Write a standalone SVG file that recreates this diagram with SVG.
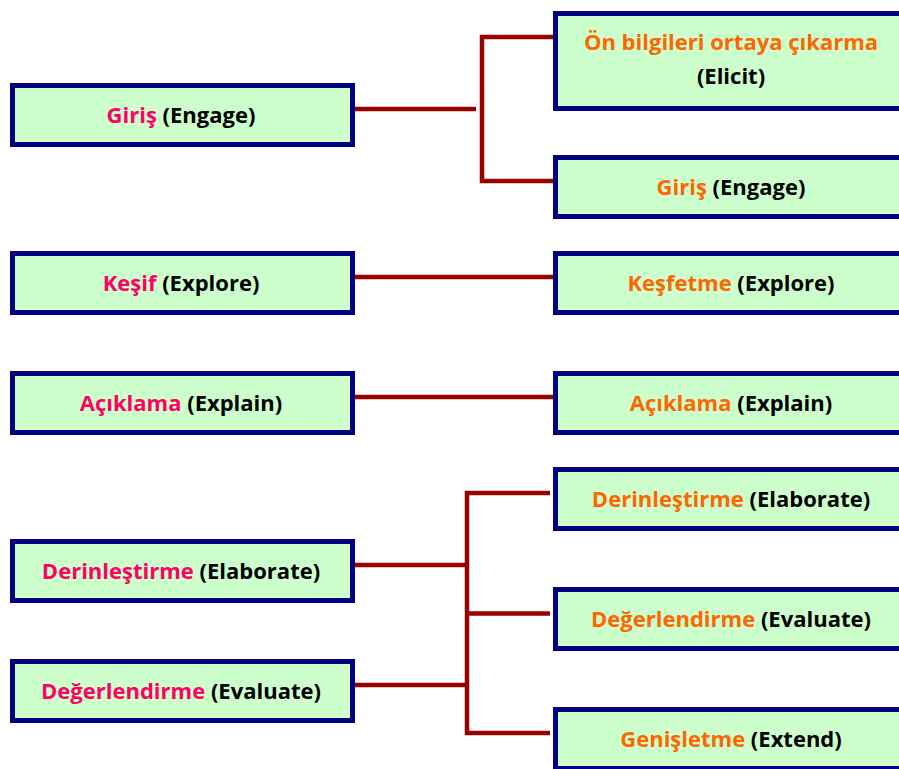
<svg xmlns="http://www.w3.org/2000/svg" width="899" height="769" viewBox="0 0 899 769">
<style>
.box{fill:#CCFFCC;stroke:#000080;stroke-width:5}
.t{font-family:"Open Sans","Liberation Sans",sans-serif;font-weight:bold;font-size:22px;text-anchor:middle;fill:#000}
.l{fill:#FF0066}
.r{fill:#FF6600}
.c{stroke:#990000;stroke-width:4.5;fill:none}
</style>
<rect width="899" height="769" fill="#fff"/>
<g id="connectors">
<line class="c" x1="352" y1="109" x2="476" y2="109"/>
<polyline class="c" points="553,37 482,37 482,181 553,181"/>
<line class="c" x1="352" y1="277" x2="553" y2="277"/>
<line class="c" x1="352" y1="397" x2="553" y2="397"/>
<line class="c" x1="352" y1="565" x2="467" y2="565"/>
<line class="c" x1="352" y1="685" x2="467" y2="685"/>
<polyline class="c" points="550,493 467,493 467,733 550,733"/>
<line class="c" x1="467" y1="613.5" x2="550" y2="613.5"/>
</g>
<g id="left-engage"><rect class="box" x="12.5" y="85.5" width="340" height="59"/><text class="t" x="181" y="122.5"><tspan class="l">Giriş</tspan> (Engage)</text></g>
<g id="left-explore"><rect class="box" x="12.5" y="253.5" width="340" height="59"/><text class="t" x="181" y="290.5"><tspan class="l">Keşif</tspan> (Explore)</text></g>
<g id="left-explain"><rect class="box" x="12.5" y="373.5" width="340" height="59"/><text class="t" x="181" y="410.5"><tspan class="l">Açıklama</tspan> (Explain)</text></g>
<g id="left-elaborate"><rect class="box" x="12.5" y="541.5" width="340" height="59"/><text class="t" x="181" y="578.5"><tspan class="l">Derinleştirme</tspan> (Elaborate)</text></g>
<g id="left-evaluate"><rect class="box" x="12.5" y="661.5" width="340" height="59"/><text class="t" x="181" y="698.5"><tspan class="l">Değerlendirme</tspan> (Evaluate)</text></g>
<g id="right-elicit"><rect class="box" x="555.5" y="13.5" width="360" height="95"/><text class="t" x="731" y="50"><tspan class="r">Ön bilgileri ortaya çıkarma</tspan></text><text class="t" x="731" y="84">(Elicit)</text></g>
<g id="right-engage"><rect class="box" x="555.5" y="157.5" width="360" height="59"/><text class="t" x="731" y="194.5"><tspan class="r">Giriş</tspan> (Engage)</text></g>
<g id="right-explore"><rect class="box" x="555.5" y="253.5" width="360" height="59"/><text class="t" x="731" y="290.5"><tspan class="r">Keşfetme</tspan> (Explore)</text></g>
<g id="right-explain"><rect class="box" x="555.5" y="373.5" width="360" height="59"/><text class="t" x="731" y="410.5"><tspan class="r">Açıklama</tspan> (Explain)</text></g>
<g id="right-elaborate"><rect class="box" x="555.5" y="469.5" width="360" height="59"/><text class="t" x="731" y="506.5"><tspan class="r">Derinleştirme</tspan> (Elaborate)</text></g>
<g id="right-evaluate"><rect class="box" x="555.5" y="589.5" width="360" height="59"/><text class="t" x="731" y="626.5"><tspan class="r">Değerlendirme</tspan> (Evaluate)</text></g>
<g id="right-extend"><rect class="box" x="555.5" y="709.5" width="360" height="59"/><text class="t" x="731" y="746.5"><tspan class="r">Genişletme</tspan> (Extend)</text></g>
</svg>
